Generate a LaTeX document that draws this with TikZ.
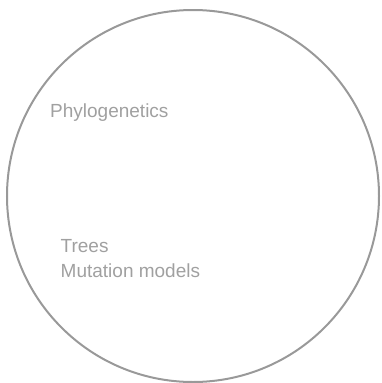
\documentclass[tikz,border=0pt]{standalone}
\usepackage{fontspec}
\setmainfont{Liberation Sans}
\definecolor{circgray}{RGB}{153,153,153}
\definecolor{txtgray}{RGB}{160,160,160}
\tikzset{
  ring/.style={draw=circgray, line width=2pt},
  label/.style={text=txtgray, inner sep=0pt, anchor=base west, font=\fontsize{19}{25}\selectfont}
}
\begin{document}
\begin{tikzpicture}[x=1pt,y=-1pt]
\useasboundingbox (0,0) rectangle (381,383);
\node[ring, circle, minimum size=372pt, inner sep=0pt] (c) at (193,196) {};
\node[label] (phylo) at (50,117.7) {Phylogenetics};
\node[label] (trees) at (60.5,252.7) {Trees};
\node[label] (mut) at (60.5,277.7) {Mutation models};
\end{tikzpicture}
\end{document}
